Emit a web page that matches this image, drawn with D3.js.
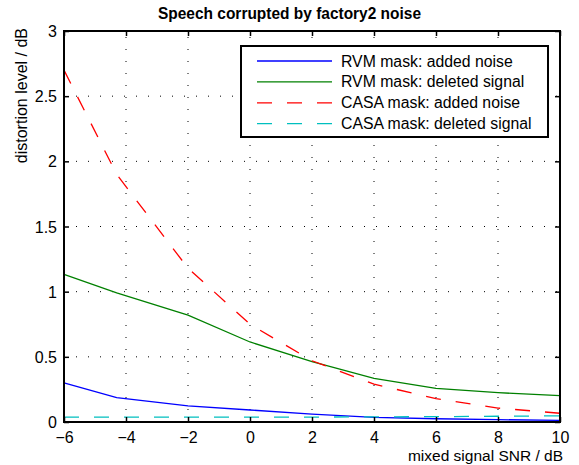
<!DOCTYPE html>
<meta charset="utf-8">
<head>
    <style>
        body { margin: 0; background: #fff; }
        svg { font-family: 'Liberation Sans', Arial, sans-serif; }
        .tick text { font-size: 16px; fill: #000; }
    </style>
</head>
<body>
<svg width="579" height="465"></svg>

<script src="https://cdn.jsdelivr.net/npm/d3@7"></script>
<script>

// mixed signal SNR (dB) and distortion levels
var snr = [-6, -4.3, -2, 0, 2, 4, 6, 8, 10];
var rvmAdded   = [0.30, 0.187, 0.123, 0.092, 0.061, 0.036, 0.025, 0.018, 0.013];
var rvmDeleted = [1.133, 0.99, 0.82, 0.614, 0.463, 0.335, 0.258, 0.225, 0.202];
var casaAdded  = [2.70, 1.90, 1.18, 0.75, 0.47, 0.29, 0.18, 0.107, 0.067];
var casaDeleted = [0.037, 0.037, 0.037, 0.037, 0.038, 0.039, 0.041, 0.044, 0.047];

var seriesNames = ["RVM mask: added noise", "RVM mask: deleted signal",
                   "CASA mask: added noise", "CASA mask: deleted signal"];
var xTicks = [-6, -4, -2, 0, 2, 4, 6, 8, 10];
var yTicks = [0, 0.5, 1, 1.5, 2, 2.5, 3];

var margin = {top: 31, right: 19, bottom: 43, left: 64},
    width = 579 - margin.left - margin.right,
    height = 465 - margin.top - margin.bottom;

var series = [
    {name: seriesNames[0], values: rvmAdded,    color: "#0000ff", dash: null},
    {name: seriesNames[1], values: rvmDeleted,  color: "#008000", dash: null},
    {name: seriesNames[2], values: casaAdded,   color: "#ff0000", dash: "15,15"},
    {name: seriesNames[3], values: casaDeleted, color: "#00bfbf", dash: "15,15"}
];

var x = d3.scaleLinear().domain([-6, 10]).range([0, width]);
var y = d3.scaleLinear().domain([0, 3]).range([height, 0]);

var svg = d3.select("svg")
  .append("g")
    .attr("transform", "translate(" + margin.left + "," + margin.top + ")");

// dotted grid
svg.append("g").selectAll("line")
    .data(xTicks.slice(1, -1))
  .enter().append("line")
    .attr("x1", function(d) { return x(d); })
    .attr("x2", function(d) { return x(d); })
    .attr("y1", height)
    .attr("y2", 0)
    .style("stroke", "#000")
    .style("stroke-width", 1)
    .style("stroke-dasharray", "1,11");

svg.append("g").selectAll("line")
    .data(yTicks.slice(1, -1))
  .enter().append("line")
    .attr("x1", 0)
    .attr("x2", width)
    .attr("y1", function(d) { return y(d); })
    .attr("y2", function(d) { return y(d); })
    .style("stroke", "#000")
    .style("stroke-width", 1)
    .style("stroke-dasharray", "1,11");

// data lines
var line = d3.line()
    .x(function(d, i) { return x(snr[i]); })
    .y(function(d) { return y(d); });

svg.append("g").selectAll("path")
    .data(series)
  .enter().append("path")
    .attr("d", function(d) { return line(d.values); })
    .style("fill", "none")
    .style("stroke", function(d) { return d.color; })
    .style("stroke-width", 1.3)
    .style("stroke-dasharray", function(d) { return d.dash; });

// axes, ticks inside on all four sides
var xAxis = d3.axisBottom(x).tickValues(xTicks).tickSizeInner(-5).tickSizeOuter(0);
var yAxis = d3.axisLeft(y).tickValues(yTicks).tickSizeInner(-5).tickSizeOuter(0)
    .tickFormat(d3.format("~g"));

svg.append("g")
    .attr("class", "x axis")
    .attr("transform", "translate(0," + height + ")")
    .call(xAxis)
  .selectAll("text")
    .attr("y", 21)
    .attr("dy", 0);

svg.append("g")
    .attr("class", "y axis")
    .call(yAxis)
  .selectAll("text")
    .attr("x", -7)
    .attr("dy", "0.35em");

svg.append("g")
    .call(d3.axisTop(x).tickValues(xTicks).tickSizeInner(-5).tickSizeOuter(0).tickFormat(""));

svg.append("g")
    .attr("transform", "translate(" + width + ",0)")
    .call(d3.axisRight(y).tickValues(yTicks).tickSizeInner(-5).tickSizeOuter(0).tickFormat(""));

svg.selectAll(".domain").remove();
svg.selectAll(".tick line").style("stroke", "#000").style("stroke-width", 1.5);

// plot box
svg.append("rect")
    .attr("width", width)
    .attr("height", height)
    .style("fill", "none")
    .style("stroke", "#000")
    .style("stroke-width", 2);

// legend
var legend = svg.append("g")
    .attr("transform", "translate(" + (241 - margin.left) + "," + (46 - margin.top) + ")");

legend.append("rect")
    .attr("width", 307)
    .attr("height", 91)
    .style("fill", "#fff")
    .style("stroke", "#000")
    .style("stroke-width", 2);

var item = legend.selectAll(".item")
    .data(series)
  .enter().append("g")
    .attr("transform", function(d, i) { return "translate(0," + (15 + i * 20.9) + ")"; });

item.append("line")
    .attr("x1", 16)
    .attr("x2", 91)
    .style("stroke", function(d) { return d.color; })
    .style("stroke-width", 1.3)
    .style("stroke-dasharray", function(d) { return d.dash; });

item.append("text")
    .attr("x", 100)
    .attr("dy", "0.35em")
    .style("font-size", "15.8px")
    .text(function(d) { return d.name; });

// labels
d3.select("svg").append("text")
    .attr("x", 158)
    .attr("y", 19)
    .attr("textLength", 263)
    .attr("lengthAdjust", "spacingAndGlyphs")
    .style("font-size", "17px")
    .style("font-weight", "bold")
    .text("Speech corrupted by factory2 noise");

d3.select("svg").append("text")
    .attr("x", 563)
    .attr("y", 461)
    .attr("text-anchor", "end")
    .style("font-size", "15.5px")
    .text("mixed signal SNR / dB");

d3.select("svg").append("text")
    .attr("transform", "translate(27,28) rotate(-90)")
    .attr("text-anchor", "end")
    .style("font-size", "16px")
    .text("distortion level / dB");

</script>
</body>
